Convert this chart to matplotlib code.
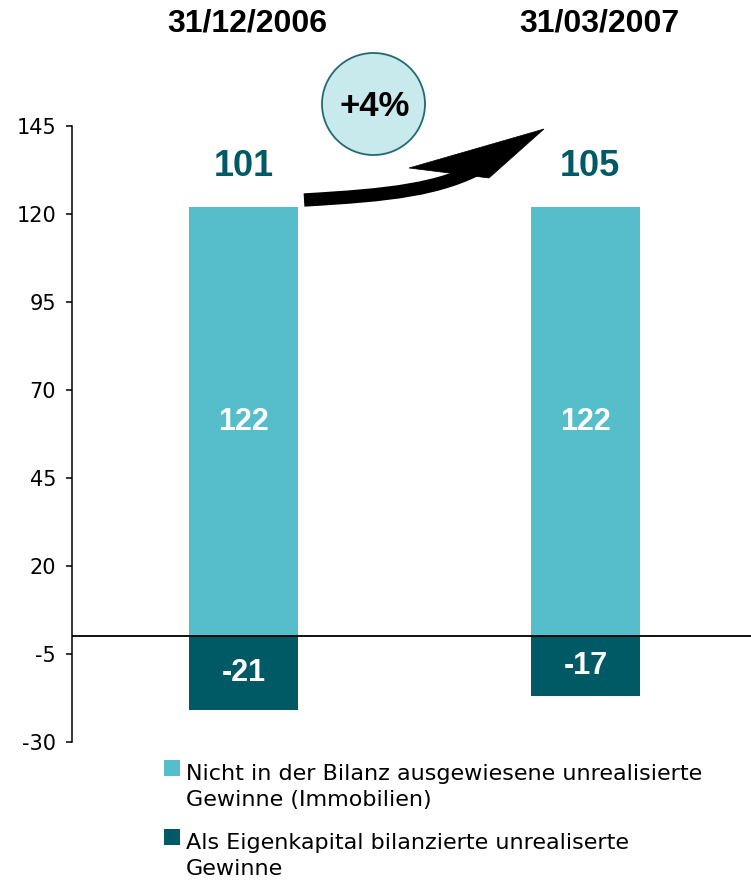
import matplotlib
matplotlib.use("Agg")
import matplotlib.pyplot as plt
import matplotlib.transforms as mtransforms
from matplotlib.patches import Ellipse, Polygon, PathPatch, Rectangle
from matplotlib.path import Path

# ---------------- data ----------------
categories = ["31/12/2006", "31/03/2007"]
off_balance = [122, 122]      # Nicht in der Bilanz ausgewiesene unrealisierte Gewinne
equity = [-21, -17]           # Als Eigenkapital bilanzierte unrealiserte Gewinne
legend_labels = [
    "Nicht in der Bilanz ausgewiesene unrealisierte\nGewinne (Immobilien)",
    "Als Eigenkapital bilanzierte unrealiserte\nGewinne",
]
yticks = [-30, -5, 20, 45, 70, 95, 120, 145]

totals = [p + n for p, n in zip(off_balance, equity)]
growth = round((totals[1] - totals[0]) / totals[0] * 100)
growth_label = f"+{growth}%"

# ---------------- style ----------------
LIGHT = "#56BECB"
DARK = "#005A66"
BOLD_FONT = ["Liberation Sans", "DejaVu Sans"]
NORMAL_FONT = ["DejaVu Sans"]
plt.rcParams["font.family"] = BOLD_FONT

W, H = 751, 881
fig = plt.figure(figsize=(W / 100, H / 100), dpi=100)
# pixel transform (origin top-left)
pix = mtransforms.Affine2D().scale(1 / W, -1 / H).translate(0, 1) + fig.transFigure

ax = fig.add_axes([72 / W, 1 - 742 / H, (W - 72) / W, 616 / H])
x = list(range(len(categories)))
bw = 0.316
ax.bar(x, off_balance, width=bw, color=LIGHT, zorder=2)
ax.bar(x, equity, width=bw, color=DARK, zorder=2)
ax.axhline(0, color="black", lw=1.3, zorder=3)

ax.set_xlim(-0.5015, 1.4839)
ax.set_ylim(-30, 145)
ax.set_yticks(yticks)
ax.set_yticklabels([str(t) for t in yticks], fontsize=15, family=NORMAL_FONT)
ax.tick_params(axis="y", direction="out", length=4.5, width=1.1, pad=7)
ax.set_xticks([])
for s in ["top", "right", "bottom"]:
    ax.spines[s].set_visible(False)
ax.spines["left"].set_linewidth(1.1)

# value labels
for i in x:
    ax.text(i, off_balance[i] / 2, str(off_balance[i]), ha="center", va="center",
            color="white", fontsize=22, fontweight="bold", zorder=4)
    ax.text(i, equity[i] / 2, str(equity[i]), ha="center", va="center",
            color="white", fontsize=22, fontweight="bold", zorder=4)

total_dx = [0.0, 0.012]
for i in x:
    ax.text(i + total_dx[i], 133.5, str(totals[i]), ha="center", va="center",
            color=DARK, fontsize=26, fontweight="bold")

# category titles on top
title_tr = mtransforms.blended_transform_factory(ax.transData, pix)
title_dx = [0.01, 0.04]
for i in x:
    ax.text(i + title_dx[i], 23.5, categories[i], transform=title_tr, ha="center",
            va="center", fontsize=23, fontweight="bold", color="black", clip_on=False)

# growth bubble
fig.add_artist(Ellipse((373.5, 104), 103, 102, transform=pix,
                       facecolor="#C8EAED", edgecolor="#1F6B70", lw=1.3))
fig.text(375, 106, growth_label, transform=pix, ha="center", va="center",
         fontsize=25, fontweight="bold", color="black")

# curved arrow
body = Path([(304, 200), (390, 195), (440, 190), (485, 165)],
            [Path.MOVETO, Path.CURVE4, Path.CURVE4, Path.CURVE4])
fig.add_artist(PathPatch(body, transform=pix, fill=False, edgecolor="black",
                         lw=9.6, capstyle="butt"))
fig.add_artist(Polygon([(544, 129), (409, 168), (489, 178)], closed=True,
                       transform=pix, facecolor="black", edgecolor="black", lw=0.5))

# legend (manual, handle aligned with first line)
leg_colors = [LIGHT, DARK]
first_base = [775, 844]
pitch = 31
for c, lab, yb in zip(leg_colors, legend_labels, first_base):
    fig.add_artist(Rectangle((164, yb - 15), 16, 16, transform=pix,
                             facecolor=c, edgecolor="none"))
    nlines = lab.count("\n") + 1
    fig.text(186, yb + pitch * (nlines - 1), lab, transform=pix, ha="left",
             va="baseline", fontsize=16, color="black", linespacing=1.4,
             family=NORMAL_FONT)

fig.savefig("out.png", dpi=100)
